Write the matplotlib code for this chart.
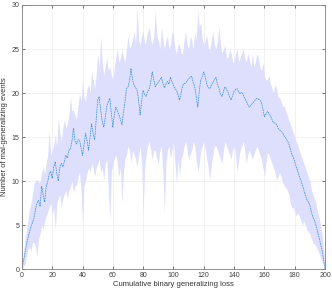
import matplotlib
matplotlib.use('Agg')
import matplotlib.pyplot as plt

# x positions (cumulative binary generalizing loss), one per unit
x_vals = list(range(0, 201))

mean_events = [
    0, 0.9, 1.8, 2.8, 3.5, 4.2, 4.8, 5.3, 5.8, 6.8,
    7.5, 7.8, 7.1, 9.4, 8.5, 7.6, 9.3, 9.9, 10.8, 11.1,
    10.3, 11.6, 12.2, 10.9, 10.0, 11.5, 12.0, 11.6, 12.2, 12.9,
    12.6, 13.5, 13.6, 14.5, 16.0, 14.6, 14.2, 14.7, 14.6, 13.8,
    12.9, 14.1, 15.4, 14.6, 13.5, 15.0, 16.5, 15.3, 14.7, 16.9,
    19.2, 19.6, 18.0, 16.8, 16.1, 17.2, 18.5, 19.0, 19.4, 17.8,
    16.1, 17.6, 18.4, 18.0, 17.5, 17.0, 16.4, 17.8, 19.0, 20.5,
    20.7, 21.4, 22.8, 21.5, 20.9, 20.6, 20.3, 19.2, 17.5, 19.0,
    20.3, 19.8, 19.6, 20.2, 20.4, 21.3, 22.4, 21.5, 20.7, 21.0,
    21.2, 21.5, 21.8, 21.1, 20.6, 21.0, 21.3, 21.0, 21.8, 21.3,
    20.9, 20.5, 20.3, 19.8, 19.2, 20.0, 20.8, 21.1, 21.1, 21.4,
    21.6, 21.8, 21.9, 21.2, 20.7, 19.6, 18.4, 20.2, 21.5, 21.9,
    22.4, 21.8, 21.0, 20.6, 20.5, 20.9, 21.2, 21.5, 21.8, 21.0,
    20.5, 19.9, 19.6, 20.2, 20.7, 20.4, 20.1, 19.6, 19.2, 19.7,
    20.2, 20.4, 20.5, 20.1, 19.9, 20.1, 19.8, 19.4, 19.1, 18.7,
    18.4, 18.6, 18.8, 19.0, 19.2, 19.4, 19.3, 19.2, 19.0, 18.2,
    17.3, 17.6, 17.9, 17.7, 17.4, 17.0, 16.6, 16.6, 16.4, 16.0,
    15.8, 15.7, 15.5, 15.1, 14.9, 14.6, 14.3, 13.7, 13.1, 12.7,
    12.2, 11.6, 11.1, 10.6, 10.1, 9.6, 9.0, 8.4, 7.9, 7.6,
    7.2, 6.5, 5.9, 5.5, 5.0, 4.3, 3.6, 2.9, 2.1, 1.1,
    0,
]

upper_events = [
    0.3, 1.8, 3.5, 4.5, 5.5, 6.8, 7.5, 8.5, 9.8, 10.0,
    10.2, 9.8, 10.0, 11.0, 11.5, 10.8, 12.0, 13.0, 15.8, 13.0,
    13.5, 14.0, 15.2, 14.0, 17.2, 15.5, 14.5, 16.0, 17.0, 16.0,
    16.5, 17.5, 19.5, 18.0, 18.0, 17.5, 17.0, 18.5, 20.0, 19.0,
    21.5, 19.5, 19.0, 20.5, 21.0, 20.0, 22.5, 21.5, 20.5, 22.0,
    24.5, 23.0, 26.5, 23.5, 22.0, 23.0, 24.0, 22.5, 23.0, 22.0,
    21.5, 23.0, 24.0, 25.0, 23.5, 24.0, 25.0, 24.0, 23.5, 25.0,
    26.5, 25.0, 25.5, 26.0, 27.0, 25.5, 29.8, 26.0, 25.5, 26.5,
    27.0, 25.5, 26.0, 27.0, 27.5, 26.0, 25.5, 26.5, 29.4, 26.5,
    26.0, 25.0, 27.5, 26.0, 25.0, 26.0, 26.5, 25.0, 25.5, 27.0,
    26.5, 25.0, 24.5, 25.5, 25.5, 24.5, 24.5, 26.0, 27.0, 25.5,
    25.0, 26.5, 26.0, 25.0, 27.0, 26.0, 29.4, 27.5, 28.0, 26.0,
    25.5, 26.0, 26.5, 25.0, 25.0, 26.0, 27.0, 25.5, 25.0, 26.0,
    27.5, 25.5, 24.5, 25.0, 25.5, 24.0, 24.0, 25.0, 24.5, 23.5,
    23.5, 24.5, 25.0, 23.5, 24.0, 24.5, 25.0, 24.0, 23.5, 24.5,
    24.0, 23.0, 24.5, 23.0, 23.5, 24.5, 24.0, 23.0, 22.5, 23.5,
    22.0, 21.5, 21.5, 22.0, 21.0, 20.5, 20.0, 21.0, 20.5, 19.5,
    19.5, 19.0, 18.5, 18.5, 18.0, 17.5, 17.0, 16.5, 16.0, 15.5,
    15.0, 14.5, 14.0, 13.5, 13.0, 12.5, 12.0, 11.5, 11.0, 10.5,
    10.0, 9.0, 8.5, 8.0, 7.5, 6.5, 6.0, 5.0, 4.0, 2.5,
    0.3,
]

lower_events = [
    0, 0.3, 0.5, 1.5, 2.2, 2.5, 2.0, 3.0, 3.0, 2.5,
    1.4, 3.5, 4.0, 5.0, 4.5, 5.5, 6.0, 6.5, 7.0, 7.5,
    6.0, 7.0, 4.4, 7.5, 8.0, 8.5, 7.0, 8.0, 8.5, 9.0,
    8.0, 9.0, 9.3, 10.0, 8.6, 9.5, 9.5, 10.5, 11.0, 9.0,
    5.1, 9.5, 10.0, 11.0, 11.5, 11.0, 12.0, 11.5, 10.5, 11.5,
    12.0, 12.5, 11.0, 11.5, 10.1, 12.0, 12.5, 9.0, 5.6, 11.0,
    12.0, 12.5, 13.0, 12.0, 10.5, 11.5, 7.5, 11.0, 12.5, 13.0,
    14.0, 13.5, 12.0, 13.5, 13.0, 12.5, 11.6, 13.0, 14.0, 12.0,
    6.3, 11.5, 13.0, 14.0, 14.5, 13.5, 12.5, 13.5, 13.5, 12.5,
    12.0, 13.5, 14.0, 11.0, 6.3, 12.0, 13.5, 14.0, 12.5, 13.5,
    14.5, 12.0, 9.7, 12.5, 10.5, 12.5, 13.0, 14.0, 14.5, 13.5,
    12.5, 13.0, 13.5, 14.5, 14.0, 12.5, 11.0, 12.0, 13.5, 14.0,
    14.5, 13.5, 12.5, 11.5, 10.1, 12.0, 13.0, 14.0, 14.0, 13.5,
    13.0, 12.5, 12.0, 13.5, 14.5, 14.0, 13.5, 13.0, 12.5, 13.5,
    14.0, 13.0, 11.0, 12.5, 13.5, 14.0, 14.5, 13.5, 12.0, 13.0,
    13.5, 13.0, 12.5, 13.0, 13.5, 14.0, 13.5, 13.0, 12.5, 11.5,
    10.6, 12.0, 13.3, 13.0, 12.5, 12.0, 11.5, 11.0, 10.1, 10.5,
    11.0, 10.5, 9.8, 9.5, 9.3, 9.0, 8.5, 7.5, 7.0, 7.0,
    6.5, 6.0, 6.4, 6.0, 5.6, 5.0, 5.5, 5.0, 4.5, 4.2,
    4.0, 3.5, 3.0, 2.8, 2.6, 2.2, 1.8, 1.3, 0.8, 0.4,
    0,
]

x_ticks = [0, 20, 40, 60, 80, 100, 120, 140, 160, 180, 200]
y_ticks = [0, 5, 10, 15, 20, 25, 30]

plt.rcParams['font.family'] = ['Liberation Sans', 'DejaVu Sans']

fig = plt.figure(figsize=(3.32, 2.94), dpi=100)
ax = fig.add_axes([0.066, 0.085, 0.913, 0.898])

ax.set_axisbelow(True)
ax.grid(True, color='#ebebeb', linewidth=0.5)

# shaded spread around the mean
ax.fill_between(x_vals, lower_events, upper_events, color='#dedefd',
                linewidth=0)
ax.plot(x_vals, mean_events, color='#3590d8', linewidth=0.5,
        linestyle=(0, (2.5, 1)))

ax.set_xlim(0, 200)
ax.set_ylim(0, 30)
ax.set_xticks(x_ticks)
ax.set_yticks(y_ticks)
ax.tick_params(direction='in', length=2, width=0.5, colors='#404040',
               labelsize=5, top=True, right=True, pad=2)
for side in ax.spines.values():
    side.set_color('#808080')
    side.set_linewidth(0.6)

ax.set_xlabel('Cumulative binary generalizing loss', fontsize=5.5,
              color='#333333', labelpad=1.5)
ax.set_ylabel('Number of mal-generalizing events', fontsize=5.5,
              color='#333333', labelpad=2)

fig.savefig('out.png', dpi=100, facecolor='white')
plt.close(fig)
